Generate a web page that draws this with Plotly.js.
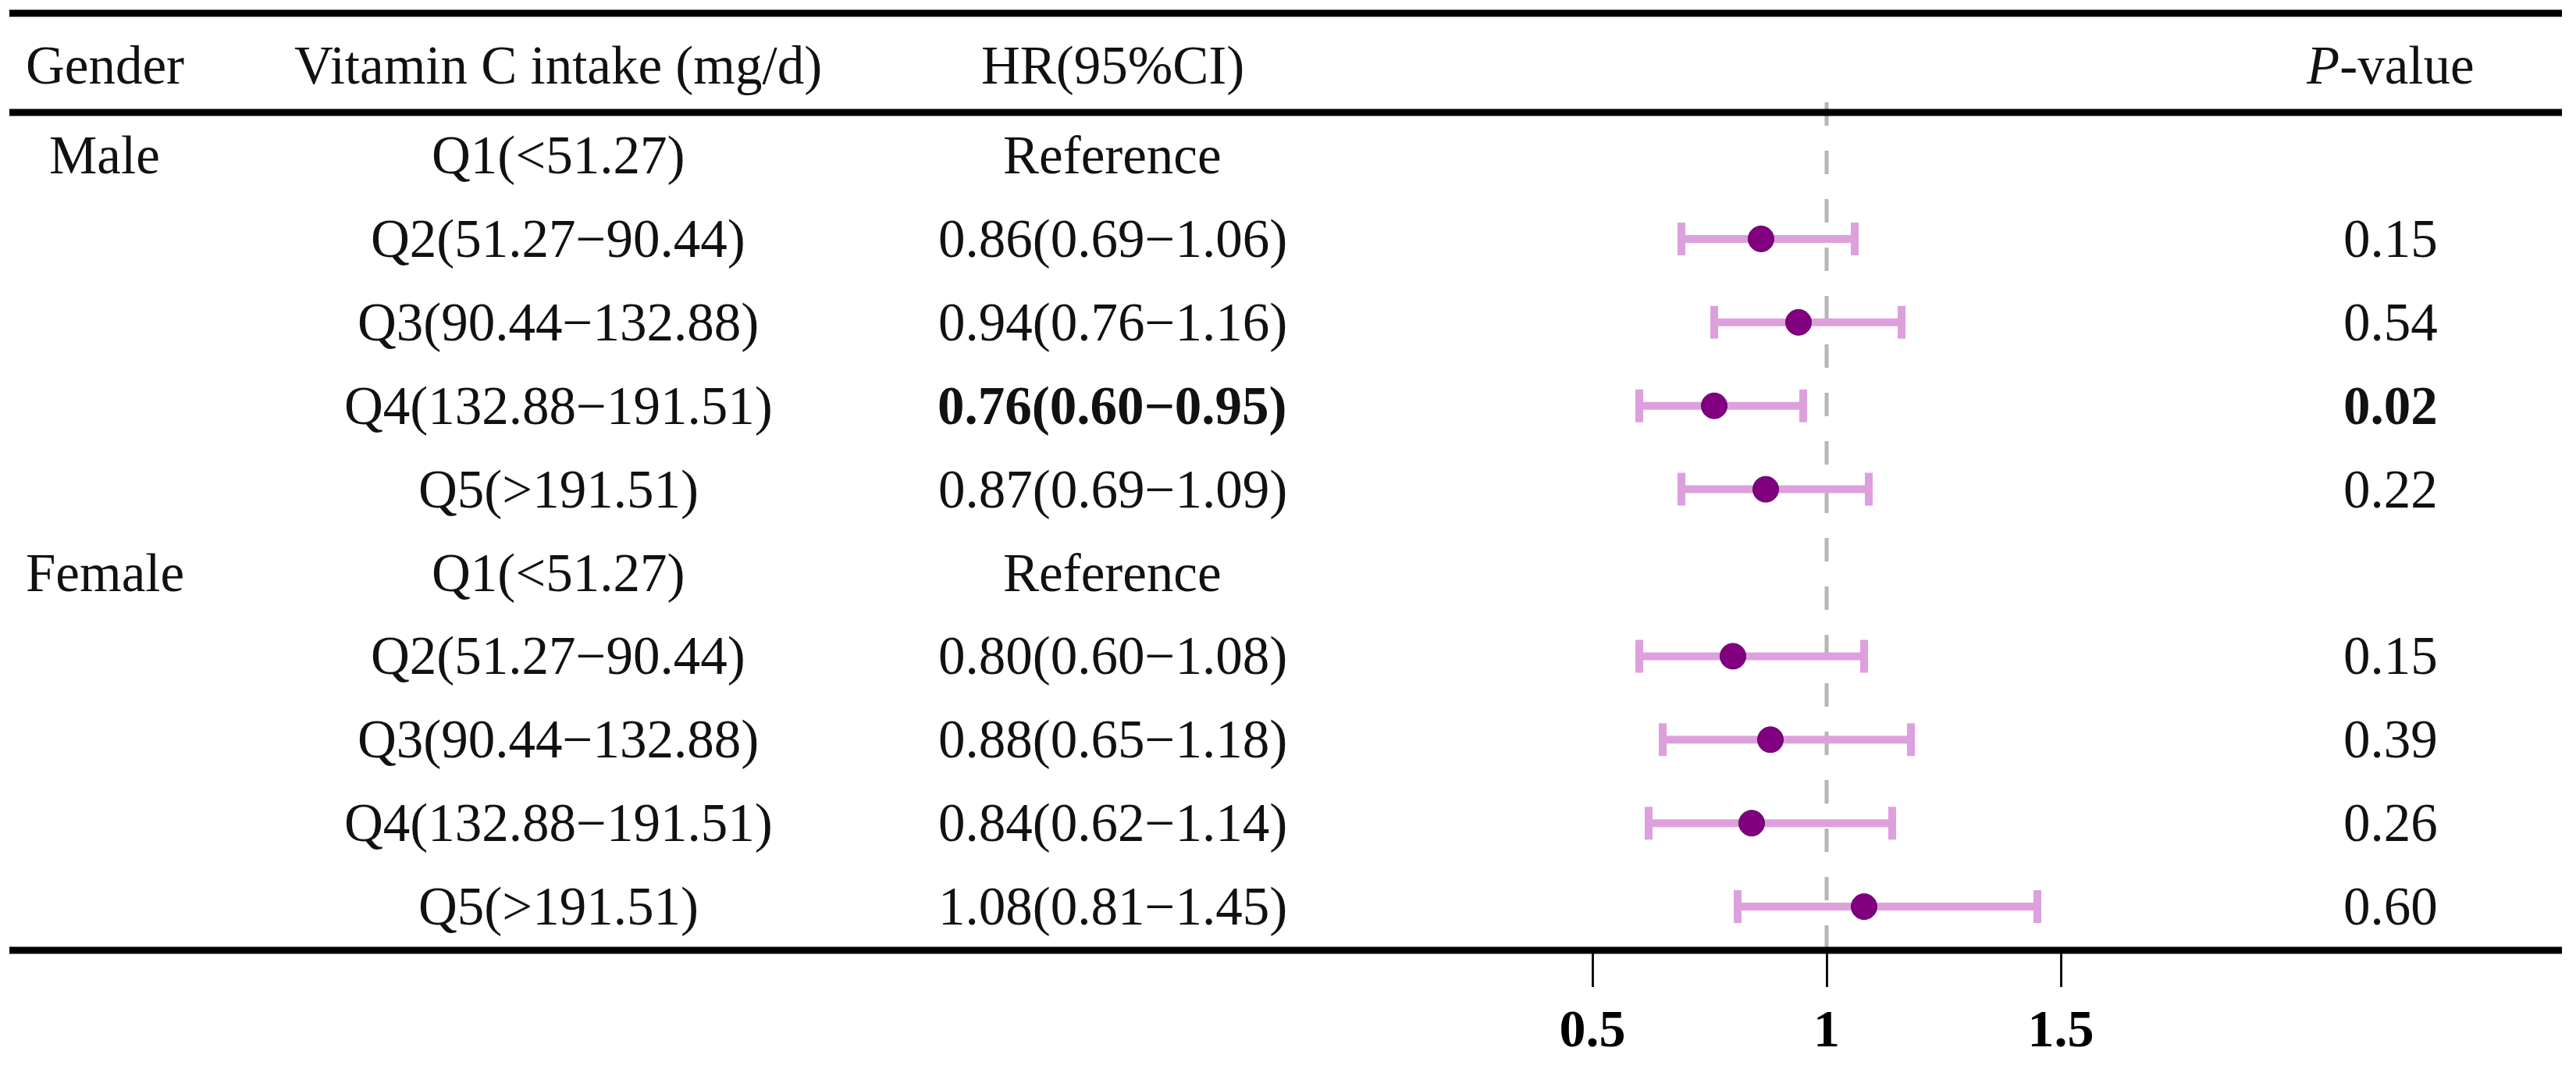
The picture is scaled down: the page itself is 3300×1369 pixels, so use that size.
<!DOCTYPE html>
<html>
<head>
<meta charset="utf-8">
<script src="https://cdn.plot.ly/plotly-3.0.1.min.js"></script>
<style>
  html, body { margin: 0; padding: 0; background: #ffffff; }
  #chart { width: 3300px; height: 1369px; }
</style>
</head>
<body>
<div id="chart"></div>
<script>
// ---------------- data ----------------
const headers = ["Gender", "Vitamin C intake (mg/d)", "HR(95%CI)", "<i>P</i>-value"];
const genders = ["Male", "", "", "", "", "Female", "", "", "", ""];
const intake = [
  "Q1(&lt;51.27)", "Q2(51.27−90.44)", "Q3(90.44−132.88)", "Q4(132.88−191.51)", "Q5(&gt;191.51)",
  "Q1(&lt;51.27)", "Q2(51.27−90.44)", "Q3(90.44−132.88)", "Q4(132.88−191.51)", "Q5(&gt;191.51)"
];
const hr    = [null, 0.86, 0.94, 0.76, 0.87, null, 0.80, 0.88, 0.84, 1.08];
const lower = [null, 0.69, 0.76, 0.60, 0.69, null, 0.60, 0.65, 0.62, 0.81];
const upper = [null, 1.06, 1.16, 0.95, 1.09, null, 1.08, 1.18, 1.14, 1.45];
const pvals = [null, 0.15, 0.54, 0.02, 0.22, null, 0.15, 0.39, 0.26, 0.60];
const referenceLabel = "Reference";
const tickVals = [0.5, 1, 1.5];
const tickText = ["0.5", "1", "1.5"];
const nullValue = 1;

// ---------------- layout helpers ----------------
const W = 3300, H = 1369;
const FONT = "Liberation Serif, Times New Roman, serif";
const FS = 69;
const TXT = "#111111";
const rowTop = 199, rowStep = 106.9;           // pixel centre of first row, spacing
const plotBottomPx = 1217;                        // bottom rule / x-axis position
const pxToRow = p => (p - rowTop) / rowStep;
const yRange = [pxToRow(H), pxToRow(0)];
const xPerUnit = 600, xOnePx = 2340;
const xRange = [nullValue - xOnePx / xPerUnit, nullValue + (W - xOnePx) / xPerUnit];

const colX = [134 / W, 715 / W, 1425 / W, 3062 / W];
const headerRow = pxToRow(84);
const rows = hr.map((_, i) => i);

const fmt = v => v.toFixed(2);
const hrText = hr.map((v, i) => v === null ? referenceLabel : fmt(v) + "(" + fmt(lower[i]) + "−" + fmt(upper[i]) + ")");
const pText = pvals.map(v => v === null ? "" : fmt(v));
const sig = pvals.map(v => v !== null && v < 0.05);

const annotations = [];
function addText(x, y, text, bold) {
  annotations.push({
    xref: "paper", yref: "y", x: x, y: y, text: bold ? "<b>" + text + "</b>" : text,
    showarrow: false, xanchor: "center", yanchor: "middle",
    font: { family: FONT, size: FS, color: TXT }
  });
}
headers.forEach((h, j) => addText(colX[j], headerRow, h, false));
rows.forEach(i => {
  if (genders[i]) addText(colX[0], rows[i], genders[i], false);
  addText(colX[1], rows[i], intake[i], false);
  addText(colX[2], rows[i], hrText[i], sig[i]);
  if (pText[i]) addText(colX[3], rows[i], pText[i], sig[i]);
});

const ruleX0 = 12 / W, ruleX1 = 3282 / W;
const shapes = [
  { type: "line", xref: "x", yref: "y", x0: nullValue, x1: nullValue,
    y0: pxToRow(131), y1: pxToRow(plotBottomPx),
    line: { color: "#b5b5b5", width: 5, dash: "30px,32px" }, layer: "below" },
  { type: "line", xref: "paper", yref: "y", x0: ruleX0, x1: ruleX1, y0: pxToRow(17), y1: pxToRow(17),
    line: { color: "#000", width: 9 } },
  { type: "line", xref: "paper", yref: "y", x0: ruleX0, x1: ruleX1, y0: pxToRow(144), y1: pxToRow(144),
    line: { color: "#000", width: 9 } },
  { type: "line", xref: "paper", yref: "y", x0: ruleX0, x1: ruleX1, y0: pxToRow(plotBottomPx), y1: pxToRow(plotBottomPx),
    line: { color: "#000", width: 9 } }
];

const trace = {
  type: "scatter", mode: "markers",
  x: hr, y: rows,
  error_x: {
    type: "data", symmetric: false,
    array: hr.map((v, i) => v === null ? null : upper[i] - v),
    arrayminus: hr.map((v, i) => v === null ? null : v - lower[i]),
    color: "#DDA0DD", thickness: 10, width: 21
  },
  marker: { size: 33, color: "#800080", line: { color: "#6a006a", width: 1 } },
  hoverinfo: "skip", showlegend: false, cliponaxis: false
};

const layout = {
  width: W, height: H,
  margin: { l: 0, r: 0, t: 0, b: 0, pad: 0 },
  paper_bgcolor: "#ffffff", plot_bgcolor: "rgba(0,0,0,0)",
  showlegend: false,
  xaxis: {
    domain: [0, 1], range: xRange, anchor: "free", position: (H - plotBottomPx) / H,
    showgrid: false, zeroline: false, showline: false,
    tickmode: "array", tickvals: tickVals, ticktext: tickText,
    ticks: "outside", ticklen: 46, tickwidth: 3, tickcolor: "#111",
    ticklabelstandoff: -6,
    tickfont: { family: FONT, size: 68, color: "#000", weight: "bold" }
  },
  yaxis: {
    domain: [0, 1], range: yRange,
    showgrid: false, zeroline: false, showline: false, showticklabels: false, ticks: ""
  },
  shapes: shapes,
  annotations: annotations
};

Plotly.newPlot("chart", [trace], layout, { staticPlot: true, displayModeBar: false });
</script>
</body>
</html>
